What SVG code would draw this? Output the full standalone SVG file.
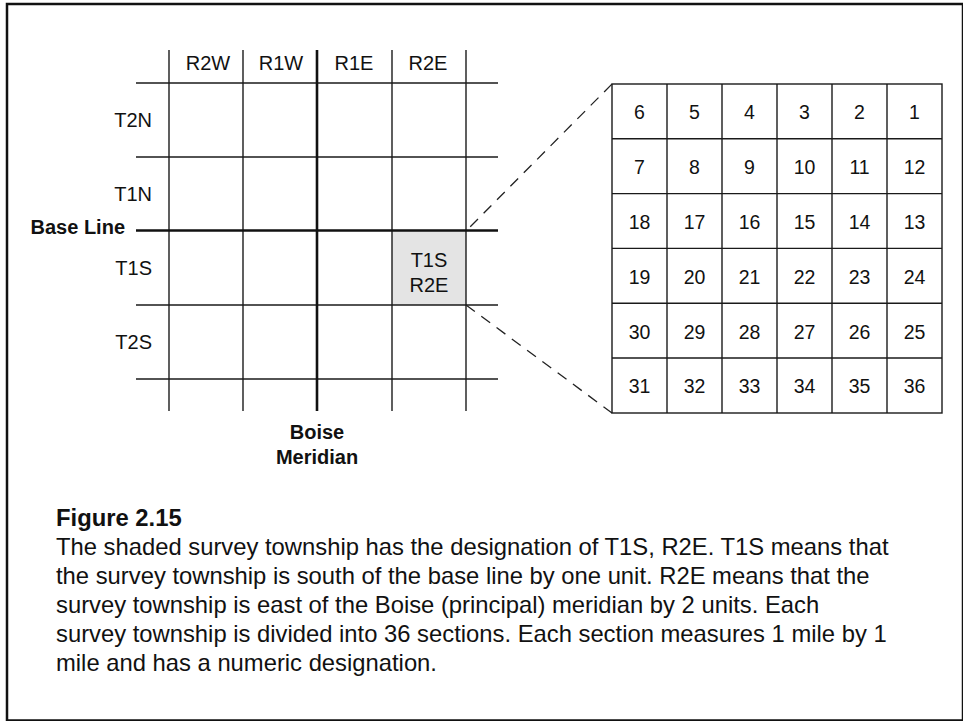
<svg xmlns="http://www.w3.org/2000/svg" width="963" height="721" viewBox="0 0 963 721">
<style>
.grid{stroke:#1a1a1a;stroke-width:1.4;fill:none}
.thick{stroke:#111;stroke-width:2.6;fill:none}
.lbl{font-family:"Liberation Sans",Arial,sans-serif;font-size:20px;fill:#111}
.b{font-weight:bold}
.num{font-family:"Liberation Sans",Arial,sans-serif;font-size:19.5px;fill:#111;text-anchor:middle}
.cap{font-family:"Liberation Sans",Arial,sans-serif;font-size:23.8px;fill:#111}
.dash{stroke:#222;stroke-width:1.3;fill:none;stroke-dasharray:11 8}
</style>
<rect x="7" y="4" width="956" height="716.5" fill="#fff" stroke="#111" stroke-width="2.5"/>

<g id="township-grid">
  <rect id="shaded-township" x="392" y="230.5" width="74" height="74.5" fill="#e4e4e4"/>
  <g class="grid">
    <line x1="169" y1="50" x2="169" y2="411"/>
    <line x1="243" y1="50" x2="243" y2="411"/>
    <line x1="392" y1="50" x2="392" y2="411"/>
    <line x1="466" y1="50" x2="466" y2="411"/>
    <line x1="136" y1="83" x2="498" y2="83"/>
    <line x1="136" y1="157" x2="498" y2="157"/>
    <line x1="136" y1="305" x2="498" y2="305"/>
    <line x1="136" y1="379" x2="498" y2="379"/>
  </g>
  <g class="thick">
    <line id="boise-meridian" x1="317" y1="50" x2="317" y2="411"/>
    <line id="base-line" x1="136" y1="230.5" x2="498" y2="230.5"/>
  </g>
  <g class="lbl" text-anchor="middle">
    <text x="208" y="69.5">R2W</text>
    <text x="281" y="69.5">R1W</text>
    <text x="354" y="69.5">R1E</text>
    <text x="428" y="69.5">R2E</text>
    <text x="429" y="267">T1S</text>
    <text x="429" y="292">R2E</text>
  </g>
  <g class="lbl" text-anchor="end">
    <text x="152" y="127">T2N</text>
    <text x="152" y="201">T1N</text>
    <text x="152" y="275">T1S</text>
    <text x="152" y="349">T2S</text>
    <text class="b" x="125" y="233.5">Base Line</text>
  </g>
  <g class="lbl b" text-anchor="middle">
    <text x="317" y="438.5">Boise</text>
    <text x="317" y="463.5">Meridian</text>
  </g>
</g>

<g id="connectors">
  <line class="dash" x1="466" y1="231" x2="612" y2="84" stroke-dashoffset="-6"/>
  <line class="dash" x1="466" y1="305" x2="612" y2="413"/>
</g>

<g id="section-grid">
  <g class="grid">
    <rect x="612" y="84" width="330" height="329"/>
    <line x1="667" y1="84" x2="667" y2="413"/>
    <line x1="722" y1="84" x2="722" y2="413"/>
    <line x1="777" y1="84" x2="777" y2="413"/>
    <line x1="832" y1="84" x2="832" y2="413"/>
    <line x1="887" y1="84" x2="887" y2="413"/>
    <line x1="612" y1="138.8" x2="942" y2="138.8"/>
    <line x1="612" y1="193.6" x2="942" y2="193.6"/>
    <line x1="612" y1="248.4" x2="942" y2="248.4"/>
    <line x1="612" y1="303.2" x2="942" y2="303.2"/>
    <line x1="612" y1="358" x2="942" y2="358"/>
  </g>
  <g class="num">
    <text x="639.5" y="119">6</text><text x="694.5" y="119">5</text><text x="749.5" y="119">4</text><text x="804.5" y="119">3</text><text x="859.5" y="119">2</text><text x="914.5" y="119">1</text>
    <text x="639.5" y="174">7</text><text x="694.5" y="174">8</text><text x="749.5" y="174">9</text><text x="804.5" y="174">10</text><text x="859.5" y="174">11</text><text x="914.5" y="174">12</text>
    <text x="639.5" y="229">18</text><text x="694.5" y="229">17</text><text x="749.5" y="229">16</text><text x="804.5" y="229">15</text><text x="859.5" y="229">14</text><text x="914.5" y="229">13</text>
    <text x="639.5" y="283.5">19</text><text x="694.5" y="283.5">20</text><text x="749.5" y="283.5">21</text><text x="804.5" y="283.5">22</text><text x="859.5" y="283.5">23</text><text x="914.5" y="283.5">24</text>
    <text x="639.5" y="338.5">30</text><text x="694.5" y="338.5">29</text><text x="749.5" y="338.5">28</text><text x="804.5" y="338.5">27</text><text x="859.5" y="338.5">26</text><text x="914.5" y="338.5">25</text>
    <text x="639.5" y="393">31</text><text x="694.5" y="393">32</text><text x="749.5" y="393">33</text><text x="804.5" y="393">34</text><text x="859.5" y="393">35</text><text x="914.5" y="393">36</text>
  </g>
</g>

<g id="caption" class="cap">
  <text class="b" x="56" y="526">Figure 2.15</text>
  <text x="56" y="554.5">The shaded survey township has the designation of T1S, R2E. T1S means that</text>
  <text x="56" y="583.5">the survey township is south of the base line by one unit. R2E means that the</text>
  <text x="56" y="612.5">survey township is east of the Boise (principal) meridian by 2 units. Each</text>
  <text x="56" y="641.5">survey township is divided into 36 sections. Each section measures 1 mile by 1</text>
  <text x="56" y="670.5">mile and has a numeric designation.</text>
</g>
</svg>
